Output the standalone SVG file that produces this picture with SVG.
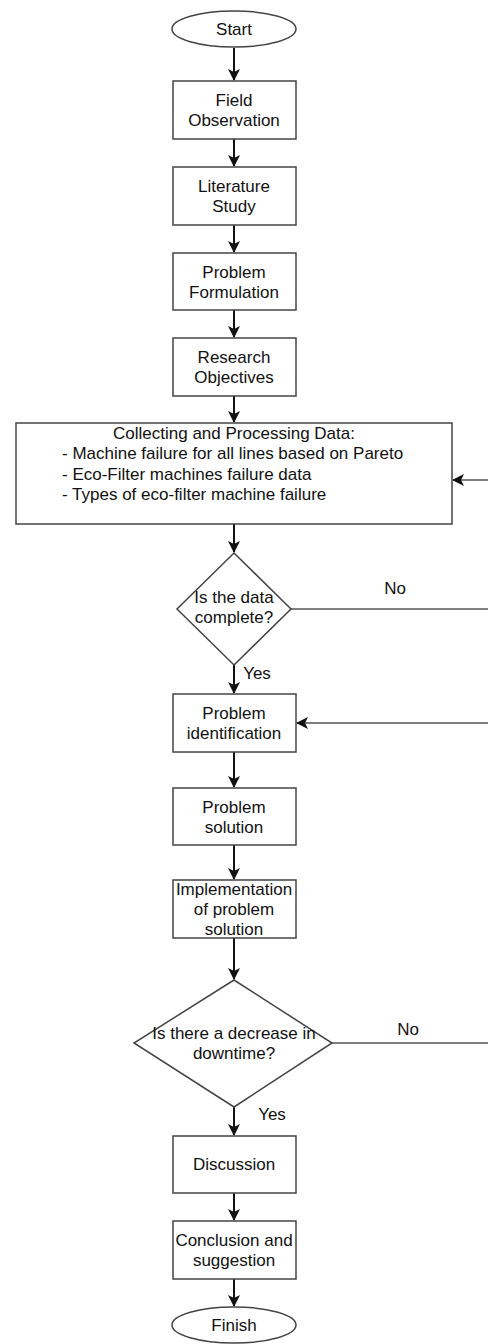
<svg xmlns="http://www.w3.org/2000/svg" width="488" height="1344" viewBox="0 0 488 1344">
<style>
.s{fill:#fff;stroke:#444;stroke-width:1.5}
.t{font-family:"Liberation Sans",Arial,sans-serif;font-size:17px;fill:#111;text-anchor:middle}
.c{fill:none;stroke:#111;stroke-width:2}
.g{fill:none;stroke:#555;stroke-width:1.5}
</style>
<defs>
<marker id="a" viewBox="0 0 12 12" refX="11" refY="6" markerWidth="12" markerHeight="12" markerUnits="userSpaceOnUse" orient="auto">
<path d="M0,0 L12,6 L0,12 L3,6 Z" fill="#111"/>
</marker>
</defs>
<rect width="488" height="1344" fill="#fff"/>
<g id="connectors">
<line class="c" x1="234" y1="48" x2="234" y2="80" marker-end="url(#a)"/>
<line class="c" x1="234" y1="139" x2="234" y2="166" marker-end="url(#a)"/>
<line class="c" x1="234" y1="225" x2="234" y2="252" marker-end="url(#a)"/>
<line class="c" x1="234" y1="310" x2="234" y2="337" marker-end="url(#a)"/>
<line class="c" x1="234" y1="396" x2="234" y2="422" marker-end="url(#a)"/>
<line class="c" x1="234" y1="524" x2="234" y2="552" marker-end="url(#a)"/>
<line class="g" x1="291" y1="609" x2="488" y2="609"/>
<line class="g" x1="488" y1="480" x2="453" y2="480" marker-end="url(#a)"/>
<line class="c" x1="234" y1="665" x2="234" y2="693" marker-end="url(#a)"/>
<line class="g" x1="488" y1="723" x2="297" y2="723" marker-end="url(#a)"/>
<line class="c" x1="234" y1="752" x2="234" y2="787" marker-end="url(#a)"/>
<line class="c" x1="234" y1="845" x2="234" y2="879" marker-end="url(#a)"/>
<line class="c" x1="234" y1="938" x2="234" y2="979" marker-end="url(#a)"/>
<line class="g" x1="332" y1="1043" x2="488" y2="1043"/>
<line class="c" x1="234" y1="1107" x2="234" y2="1135" marker-end="url(#a)"/>
<line class="c" x1="234" y1="1193" x2="234" y2="1220" marker-end="url(#a)"/>
<line class="c" x1="234" y1="1279" x2="234" y2="1306" marker-end="url(#a)"/>
<text class="t" x="395" y="594">No</text>
<text class="t" x="257" y="679">Yes</text>
<text class="t" x="408" y="1035">No</text>
<text class="t" x="272" y="1120">Yes</text>
</g>
<g id="start"><ellipse class="s" cx="234" cy="29" rx="62" ry="18"/><text class="t" x="234" y="35">Start</text></g>
<g id="field"><rect class="s" x="173" y="81" width="123" height="58"/><text class="t" x="234" y="106">Field</text><text class="t" x="234" y="126">Observation</text></g>
<g id="literature"><rect class="s" x="173" y="167" width="123" height="58"/><text class="t" x="234" y="192">Literature</text><text class="t" x="234" y="212">Study</text></g>
<g id="formulation"><rect class="s" x="173" y="253" width="123" height="57"/><text class="t" x="234" y="278">Problem</text><text class="t" x="234" y="298">Formulation</text></g>
<g id="objectives"><rect class="s" x="173" y="338" width="123" height="58"/><text class="t" x="234" y="363">Research</text><text class="t" x="234" y="383">Objectives</text></g>
<g id="collecting"><rect class="s" x="16" y="423" width="436" height="101"/>
<text class="t" x="234" y="439">Collecting and Processing Data:</text>
<text class="t" x="62" y="459" text-anchor="start" style="text-anchor:start">- Machine failure for all lines based on Pareto</text>
<text class="t" x="62" y="480" style="text-anchor:start">- Eco-Filter machines failure data</text>
<text class="t" x="62" y="500" style="text-anchor:start">- Types of eco-filter machine failure</text>
</g>
<g id="decision1"><polygon class="s" points="234,553 291,609 234,665 177,609"/><text class="t" x="234" y="603">Is the data</text><text class="t" x="234" y="623">complete?</text></g>
<g id="identification"><rect class="s" x="173" y="694" width="123" height="58"/><text class="t" x="234" y="719">Problem</text><text class="t" x="234" y="739">identification</text></g>
<g id="solution"><rect class="s" x="173" y="788" width="123" height="57"/><text class="t" x="234" y="813">Problem</text><text class="t" x="234" y="833">solution</text></g>
<g id="implementation"><rect class="s" x="173" y="880" width="123" height="58"/><text class="t" x="234" y="895">Implementation</text><text class="t" x="234" y="915">of problem</text><text class="t" x="234" y="935">solution</text></g>
<g id="decision2"><polygon class="s" points="234,980 332,1043 234,1107 134,1043"/><text class="t" x="234" y="1039">Is there a decrease in</text><text class="t" x="234" y="1059">downtime?</text></g>
<g id="discussion"><rect class="s" x="173" y="1136" width="123" height="57"/><text class="t" x="234" y="1170">Discussion</text></g>
<g id="conclusion"><rect class="s" x="173" y="1221" width="123" height="58"/><text class="t" x="234" y="1246">Conclusion and</text><text class="t" x="234" y="1266">suggestion</text></g>
<g id="finish"><ellipse class="s" cx="234" cy="1325" rx="62" ry="18"/><text class="t" x="234" y="1331">Finish</text></g>
</svg>
